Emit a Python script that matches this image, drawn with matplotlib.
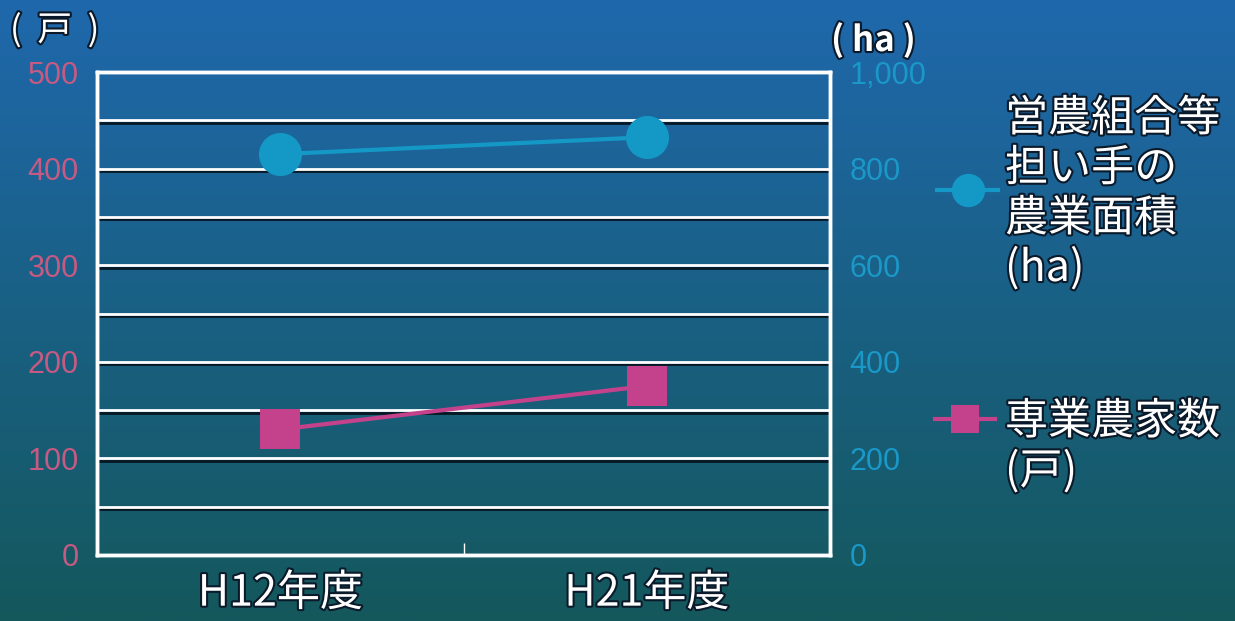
import numpy as np
import matplotlib
matplotlib.use("Agg")
import matplotlib.pyplot as plt
from matplotlib import patheffects as pe
from matplotlib.lines import Line2D

plt.rcParams['font.family'] = ['Noto Sans CJK JP', 'DejaVu Sans']

# ---- data ----
categories = ["H12年度", "H21年度"]
farm_households = [130, 175]      # 専業農家数 (戸)
managed_area = [830, 865]         # 営農組合等担い手の農業面積 (ha)
left_ticks = [0, 100, 200, 300, 400, 500]
left_tick_labels = ["0", "100", "200", "300", "400", "500"]
right_ticks = [0, 200, 400, 600, 800, 1000]
right_tick_labels = ["0", "200", "400", "600", "800", "1,000"]
grid_values = [50, 100, 150, 200, 250, 300, 350, 400, 450]

W, H = 1235, 621
fig = plt.figure(figsize=(W / 100, H / 100), dpi=100)

PINK = '#c4428c'
CYAN = '#1499c6'
PINK_TXT = '#c65a82'
CYAN_TXT = '#1a98c8'
OUTLINE = [pe.withStroke(linewidth=3, foreground='#0b1a2a')]

# background gradient (blue at top, teal at bottom)
bg = fig.add_axes([0, 0, 1, 1])
bg.axis('off')
top = np.array([31, 104, 172]) / 255
bottom = np.array([20, 88, 92]) / 255
t = np.linspace(0, 1, 256)[:, None]
grad = top * (1 - t) + bottom * t
bg.imshow(grad[:, None, :], aspect='auto', extent=[0, 1, 0, 1], interpolation='bilinear')
bg.set_xlim(0, 1)
bg.set_ylim(0, 1)

# ---- main axes ----
ax = fig.add_axes([97 / W, 1 - 555 / H, (830 - 97) / W, (555 - 72) / H])
ax.set_facecolor('none')
ax.set_xlim(-0.5, 1.5)
ax.set_ylim(0, 500)
ax2 = ax.twinx()
ax2.set_ylim(0, 1000)

for s in ax.spines.values():
    s.set_color('white')
    s.set_linewidth(2.5)
for s in ax2.spines.values():
    s.set_color('white')
    s.set_linewidth(2.5)

shadow = [pe.SimpleLineShadow(offset=(0, -1.8), shadow_color='#04101a', alpha=0.9), pe.Normal()]
for g in grid_values:
    ax.axhline(g, color='white', lw=2.0, path_effects=shadow, zorder=1)

# ticks
ax.set_xticks(range(len(categories)))
ax.set_xticklabels(categories, fontsize=31, color='white')
ax.tick_params(axis='x', length=0, pad=12)
for lbl in ax.get_xticklabels():
    lbl.set_path_effects(OUTLINE)
ax.set_xticks([0.5], minor=True)
ax.tick_params(axis='x', which='minor', direction='in', length=9, width=1, color='white')

ax.set_yticks(left_ticks)
ax.set_yticklabels(left_tick_labels, fontsize=22, color=PINK_TXT,
                   family=['Liberation Sans', 'DejaVu Sans'])
ax.tick_params(axis='y', length=0, pad=13)

ax2.set_yticks(right_ticks)
ax2.set_yticklabels(right_tick_labels, fontsize=22, color=CYAN_TXT,
                    family=['Liberation Sans', 'DejaVu Sans'])
ax2.tick_params(axis='y', length=0, pad=14)

# series
x = np.arange(len(categories))
ax.plot(x, farm_households, color=PINK, lw=3, marker='s', ms=29,
        markeredgewidth=0, zorder=3)
ax2.plot(x, managed_area, color=CYAN, lw=3, marker='o', ms=31,
         markeredgewidth=0, zorder=3)

# unit labels
fig.text(10 / W, 1 - 31 / H, "(  戸  )", fontsize=25, color='white', va='center',
         ha='left', path_effects=OUTLINE)
fig.text(831 / W, 1 - 40 / H, "( ha )", fontsize=25, color='white', va='center',
         ha='left', fontweight='bold', path_effects=OUTLINE)

# ---- legend ----
def legend_entry(y_px, x0, x1, color, marker, ms):
    fy = 1 - y_px / H
    fig.add_artist(Line2D([x0 / W, x1 / W], [fy, fy], transform=fig.transFigure,
                          color=color, lw=3))
    fig.add_artist(Line2D([(x0 + x1) / 2 / W], [fy], transform=fig.transFigure,
                          color=color, marker=marker, ms=ms, markeredgewidth=0))

legend_entry(190, 937, 998, CYAN, 'o', 24)
legend_entry(419, 935, 995, PINK, 's', 20)

area_lines = ["営農組合等", "担い手の", "農業面積", "(ha)"]
for i, line in enumerate(area_lines):
    fig.text(1005 / W, 1 - (119 + 50 * i) / H, line, fontsize=31, color='white',
             va='center', ha='left', path_effects=OUTLINE)

house_lines = ["専業農家数", "(戸)"]
for i, line in enumerate(house_lines):
    fig.text(1005 / W, 1 - (422 + 50 * i) / H, line, fontsize=31, color='white',
             va='center', ha='left', path_effects=OUTLINE)

fig.savefig("out.png", dpi=100)
